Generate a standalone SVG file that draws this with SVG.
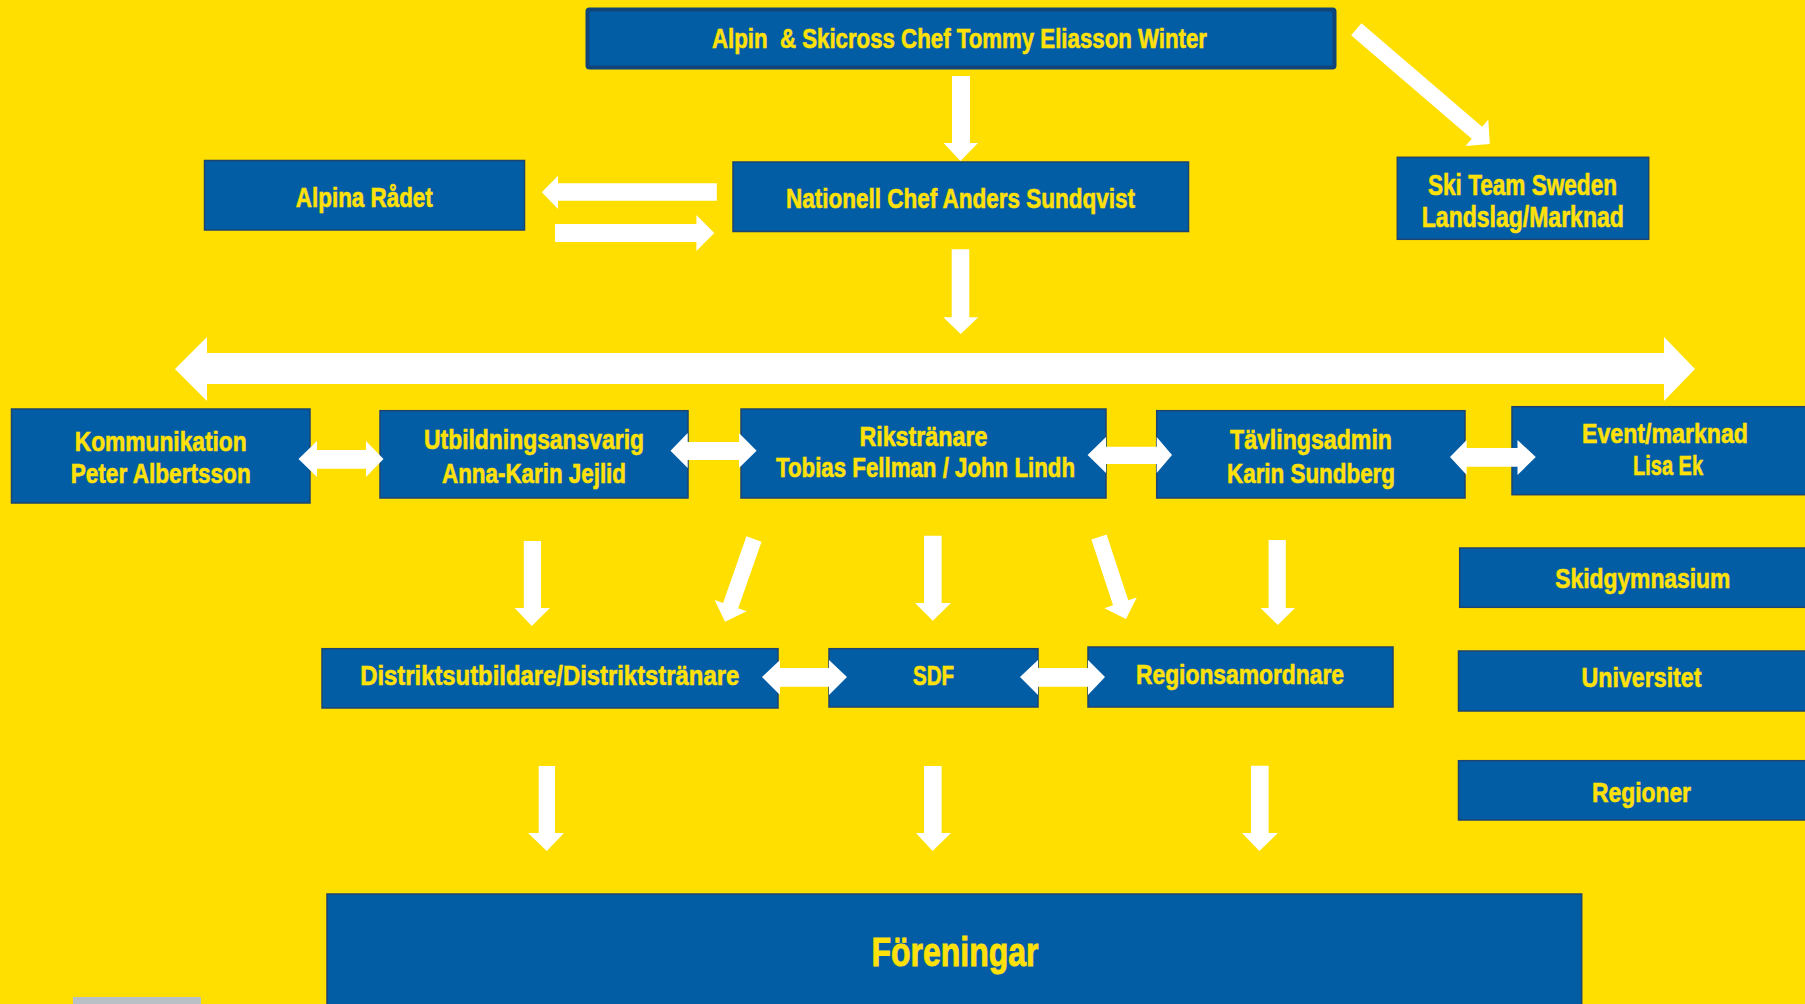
<svg xmlns="http://www.w3.org/2000/svg" width="1805" height="1004" viewBox="0 0 1805 1004">
<style>
.box{fill:#035DA4;stroke:#1E4470;stroke-width:1.5}
.top{fill:#035DA4;stroke:#10457A;stroke-width:4}
.t{font-family:"Liberation Sans Narrow","Liberation Sans",Arial,sans-serif;font-weight:bold;font-size:28.5px;fill:#FFE10A;stroke:#FFE10A;stroke-width:0.6;text-anchor:middle}
.big{font-size:41px;stroke-width:0.9}
.ar{fill:#FFFFFF}
</style>
<rect x="0" y="0" width="1805" height="1004" fill="#FFDF00"/>
<rect x="73" y="997" width="128" height="10" fill="#B9C0C6"/>

<g id="node-top">
<rect class="top" x="587.5" y="9.5" width="747" height="58" rx="2"/>
<text class="t" x="959.5" y="47.5" textLength="495" lengthAdjust="spacingAndGlyphs" xml:space="preserve">Alpin  &amp; Skicross Chef Tommy Eliasson Winter</text>
</g>
<g id="node-alpina">
<rect class="box" x="204.5" y="160.5" width="320" height="69.5"/>
<text class="t" x="364.3" y="206.7" textLength="137" lengthAdjust="spacingAndGlyphs">Alpina Rådet</text>
</g>
<g id="node-nationell">
<rect class="box" x="733" y="162" width="455.5" height="69.5"/>
<text class="t" x="960.5" y="208" textLength="349" lengthAdjust="spacingAndGlyphs">Nationell Chef Anders Sundqvist</text>
</g>
<g id="node-skiteam">
<rect class="box" x="1397.3" y="157.3" width="251.4" height="82"/>
<text class="t" x="1522.5" y="195" textLength="189" lengthAdjust="spacingAndGlyphs" style="font-size:29px">Ski Team Sweden</text>
<text class="t" x="1522.8" y="226.5" textLength="202" lengthAdjust="spacingAndGlyphs" style="font-size:29px">Landslag/Marknad</text>
</g>
<g id="node-kommunikation">
<rect class="box" x="11.5" y="409" width="298.5" height="94"/>
<text class="t" x="160.7" y="451" textLength="172" lengthAdjust="spacingAndGlyphs">Kommunikation</text>
<text class="t" x="160.7" y="483.3" textLength="180" lengthAdjust="spacingAndGlyphs">Peter Albertsson</text>
</g>
<g id="node-utbildning">
<rect class="box" x="380" y="410.7" width="308" height="87.3"/>
<text class="t" x="534" y="448.7" textLength="220" lengthAdjust="spacingAndGlyphs">Utbildningsansvarig</text>
<text class="t" x="534" y="482.5" textLength="184" lengthAdjust="spacingAndGlyphs">Anna-Karin Jejlid</text>
</g>
<g id="node-rikstranare">
<rect class="box" x="741" y="409" width="365" height="89"/>
<text class="t" x="923.4" y="446" textLength="128" lengthAdjust="spacingAndGlyphs">Rikstränare</text>
<text class="t" x="925.5" y="477" textLength="299" lengthAdjust="spacingAndGlyphs">Tobias Fellman / John Lindh</text>
</g>
<g id="node-tavling">
<rect class="box" x="1156.7" y="410.7" width="308.3" height="87.3"/>
<text class="t" x="1311" y="448.5" textLength="162" lengthAdjust="spacingAndGlyphs">Tävlingsadmin</text>
<text class="t" x="1311" y="482.5" textLength="168" lengthAdjust="spacingAndGlyphs">Karin Sundberg</text>
</g>
<g id="node-event">
<rect class="box" x="1512" y="406.7" width="300" height="88"/>
<text class="t" x="1665" y="442.5" textLength="166" lengthAdjust="spacingAndGlyphs">Event/marknad</text>
<text class="t" x="1668" y="475" textLength="70" lengthAdjust="spacingAndGlyphs">Lisa Ek</text>
</g>
<g id="node-skidgymnasium">
<rect class="box" x="1459.7" y="548" width="352" height="59.3"/>
<text class="t" x="1642.8" y="588" textLength="175" lengthAdjust="spacingAndGlyphs">Skidgymnasium</text>
</g>
<g id="node-universitet">
<rect class="box" x="1458.5" y="651" width="353" height="60"/>
<text class="t" x="1641.5" y="686.7" textLength="120" lengthAdjust="spacingAndGlyphs">Universitet</text>
</g>
<g id="node-regioner">
<rect class="box" x="1458.5" y="760.7" width="353" height="59.3"/>
<text class="t" x="1641.5" y="801.7" textLength="99" lengthAdjust="spacingAndGlyphs">Regioner</text>
</g>
<g id="node-distrikt">
<rect class="box" x="322" y="648.7" width="456" height="59.3"/>
<text class="t" x="549.7" y="685.3" textLength="379" lengthAdjust="spacingAndGlyphs">Distriktsutbildare/Distriktstränare</text>
</g>
<g id="node-sdf">
<rect class="box" x="829" y="648.7" width="209" height="58.3"/>
<text class="t" x="933.6" y="685" textLength="41" lengthAdjust="spacingAndGlyphs">SDF</text>
</g>
<g id="node-region">
<rect class="box" x="1088" y="647" width="305" height="60"/>
<text class="t" x="1240" y="684" textLength="208" lengthAdjust="spacingAndGlyphs">Regionsamordnare</text>
</g>
<g id="node-foreningar">
<rect class="box" x="327" y="894" width="1254.7" height="120"/>
<text class="t big" x="955" y="965.7" textLength="167" lengthAdjust="spacingAndGlyphs">Föreningar</text>
</g>

<g id="connectors" class="ar">
<polygon points="952,76 970,76 970,143 978,143 960.5,161 943.5,143 952,143"/>
<polygon transform="translate(1356.3,29.2) rotate(40.66)" points="0,-8 159,-8 159,-17.5 176,0 159,17.5 159,8 0,8"/>
<polygon points="541.8,192.3 558,175.7 558,183.3 716.8,183.3 716.8,200.7 558,200.7 558,209"/>
<polygon points="555,224 696.4,224 696.4,215 714.3,233 696.4,251 696.4,242 555,242"/>
<polygon points="951.7,249.3 969.3,249.3 969.3,317.3 978.3,317.3 960.7,334 943.3,317.3 951.7,317.3"/>
<polygon points="175,369 207,337 207,353 1664,353 1664,337 1695,369 1664,401 1664,384 207,384 207,401"/>
<polygon points="298.5,459 317,441 317,450 366,450 366,441 383.5,459 366,477 366,468.7 317,468.7 317,477"/>
<polygon points="670.5,450.7 687.7,433 687.7,442 739,442 739,433 756.6,450.7 739,468 739,460 687.7,460 687.7,468"/>
<polygon points="1087.6,455 1106,437 1106,446.7 1156.7,446.7 1156.7,437 1172,455 1156.7,473 1156.7,464 1106,464 1106,473"/>
<polygon points="1450,457 1466.7,440 1466.7,448 1517.5,448 1517.5,440 1535.8,457 1517.5,475 1517.5,466.7 1466.7,466.7 1466.7,475"/>
<polygon points="523.8,541 541,541 541,608 550,608 531.8,626 514.6,608 523.8,608"/>
<polygon transform="translate(754,539) rotate(109.3)" points="0,-8 70.6,-8 70.6,-17 87.6,0 70.6,17 70.6,8 0,8"/>
<polygon points="924,535.7 941.6,535.7 941.6,603 951,603 932.8,620.7 915,603 924,603"/>
<polygon transform="translate(1099,537) rotate(71.8)" points="0,-8 69.3,-8 69.3,-17 86.3,0 69.3,17 69.3,8 0,8"/>
<polygon points="1268.6,540 1285.8,540 1285.8,608 1295,608 1277.8,625 1260.5,608 1268.6,608"/>
<polygon points="762,677 780,660 780,668 829,668 829,660 847,677 829,695 829,686.7 780,686.7 780,695"/>
<polygon points="1020,677 1038,660 1038,668 1088,668 1088,660 1105,677 1088,695 1088,686.7 1038,686.7 1038,695"/>
<polygon points="538.7,766 555,766 555,833 564,833 546.8,851 528,833 538.7,833"/>
<polygon points="924,766 941.6,766 941.6,833 951,833 932.6,851 916,833 924,833"/>
<polygon points="1251,765.7 1268.6,765.7 1268.6,833 1277.8,833 1259.4,851 1242,833 1251,833"/>
</g>
</svg>
